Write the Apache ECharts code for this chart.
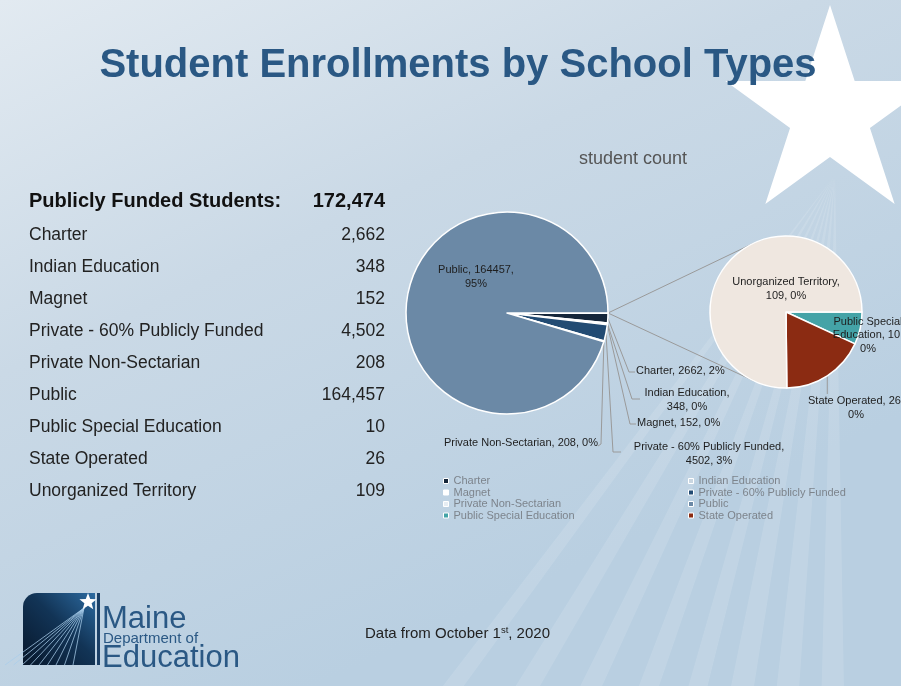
<!DOCTYPE html>
<html><head><meta charset="utf-8">
<script src="https://cdn.jsdelivr.net/npm/echarts@6/dist/echarts.min.js"></script>
<style>html,body{margin:0;padding:0;background:#fff}#c{width:901px;height:686px}</style>
</head><body><div id="c"></div>
<script>
// ---------------- DATA ----------------
const titleText = 'Student Enrollments by School Types';
const seriesName = 'student count';
const tableHeader = 'Publicly Funded Students:';
const sourceText = 'Data from October 1';
const sourceSup = 'st';
const sourceTail = ', 2020';
const categories = ['Charter', 'Indian Education', 'Magnet', 'Private - 60% Publicly Funded',
  'Private Non-Sectarian', 'Public', 'Public Special Education', 'State Operated', 'Unorganized Territory'];
const studentCounts = [2662, 348, 152, 4502, 208, 164457, 10, 26, 109];
const mainPieNames = ['Charter', 'Indian Education', 'Magnet', 'Private - 60% Publicly Funded',
  'Private Non-Sectarian', 'Public'];
const secondPieNames = ['Public Special Education', 'State Operated', 'Unorganized Territory'];
const otherName = 'Other';
const legendLeftNames = ['Charter', 'Magnet', 'Private Non-Sectarian', 'Public Special Education'];
const legendRightNames = ['Indian Education', 'Private - 60% Publicly Funded', 'Public', 'State Operated'];

// ---------------- STYLE / LAYOUT ----------------
const FONT = '"Liberation Sans", Arial, Helvetica, sans-serif';
const P1 = { cx: 507, cy: 313, r: 101 };
const P2 = { cx: 786, cy: 312, r: 76 };
const colors = {
  'Charter': '#15263a',
  'Indian Education': '#c9d6e1',
  'Magnet': '#ffffff',
  'Private - 60% Publicly Funded': '#224b73',
  'Private Non-Sectarian': '#e6edf3',
  'Public': '#6b89a6',
  'Public Special Education': '#44a3a7',
  'State Operated': '#8b2b12',
  'Unorganized Territory': '#efe7e0',
  'Other': '#efe7e0'
};
const labelSeps = {
  'Public': [', ', ',\n'],
  'Indian Education': [',\n', ', '],
  'Private - 60% Publicly Funded': [',\n', ', '],
  'Unorganized Territory': [',\n', ', '],
  'Public Special Education': [', ', ',\n'],
  'State Operated': [', ', ',\n']
};
const displayNames = { 'Public Special Education': 'Public Special\nEducation' };
// label placement (layout only)
const labelPlace = {
  'Public': { x: 476, y: 277, align: 'center' },
  'Charter': { x: 636, y: 371, align: 'left', line: [[629, 372], [635, 372]] },
  'Indian Education': { x: 687, y: 400, align: 'center', line: [[632, 399], [640, 399]] },
  'Magnet': { x: 637, y: 423, align: 'left', line: [[630, 424], [636, 424]] },
  'Private - 60% Publicly Funded': { x: 709, y: 454, align: 'center', line: [[613, 452], [621, 452]] },
  'Private Non-Sectarian': { x: 598, y: 443, align: 'right', line: [[601, 444], [598, 446]] },
  'Unorganized Territory': { x: 786, y: 289, align: 'center' },
  'Public Special Education': { x: 868, y: 335, align: 'center' },
  'State Operated': { x: 856, y: 408, align: 'center', line: [[null, 394]] }
};

const valueOf = n => studentCounts[categories.indexOf(n)];
const grandTotal = studentCounts.reduce((a, b) => a + b, 0);
const otherTotal = secondPieNames.reduce((a, n) => a + valueOf(n), 0);
const fmt = v => v.toLocaleString('en-US');

function labelText(name) {
  const v = valueOf(name);
  const pct = Math.round(v / grandTotal * 100);
  const s = labelSeps[name] || [', ', ', '];
  return (displayNames[name] || name) + s[0] + v + s[1] + pct + '%';
}

function makeItem(name) {
  const place = labelPlace[name];
  return {
    name: name,
    value: valueOf(name),
    itemStyle: { color: colors[name] },
    label: { show: true, formatter: () => labelText(name) },
    labelLine: { show: !!(place && place.line) }
  };
}

const mainData = [{
  name: otherName, value: otherTotal, itemStyle: { color: colors[otherName] },
  label: { show: false }, labelLine: { show: false }
}].concat(mainPieNames.map(makeItem));
const secondData = secondPieNames.map(makeItem);

function layoutFor(data) {
  return function (params) {
    const item = data[params.dataIndex];
    const place = item && labelPlace[item.name];
    if (!place) return {};
    const out = { x: place.x, y: place.y, align: place.align, verticalAlign: 'middle' };
    if (place.line && params.labelLinePoints) {
      const edge = params.labelLinePoints[0];
      const pts = [edge.slice()];
      place.line.forEach(p => pts.push([p[0] == null ? edge[0] : p[0], p[1]]));
      if (pts.length === 2) pts.push(pts[1].slice());
      out.labelLinePoints = pts;
    }
    return out;
  };
}

const otherAngle = otherTotal / grandTotal * 360;

function pieSeries(P, data, startAngle) {
  return {
    type: 'pie', name: seriesName,
    center: [P.cx, P.cy], radius: P.r,
    startAngle: startAngle, clockwise: true,
    avoidLabelOverlap: false,
    minShowLabelAngle: 0,
    itemStyle: { borderColor: '#ffffff', borderWidth: 1.5 },
    label: { show: true, position: 'outside', color: '#1e1e1e', fontSize: 11, fontFamily: FONT, lineHeight: 13.5 },
    labelLine: { show: true, lineStyle: { color: '#9a9a9a', width: 1 } },
    labelLayout: layoutFor(data),
    emphasis: { scale: false },
    data: data,
    z: 3
  };
}

// ---------- decorative graphics ----------
function starPoints(cx, cy, R, r) {
  const pts = [];
  for (let i = 0; i < 10; i++) {
    const a = -Math.PI / 2 + i * Math.PI / 5;
    const rr = i % 2 === 0 ? R : r;
    pts.push([cx + rr * Math.cos(a), cy + rr * Math.sin(a)]);
  }
  return pts;
}
const graphics = [];
// background rays from star
const rayApex = [835, 175];
const rayAngles = [[89, 91.5], [94, 96.5], [99, 101.5], [104, 106], [109, 111], [114.5, 116.5], [120, 122], [126, 127.5]];
rayAngles.forEach(a => {
  const L = 1200;
  const a1 = a[0] * Math.PI / 180, a2 = a[1] * Math.PI / 180;
  graphics.push({
    type: 'polygon', z: -10, silent: true,
    shape: { points: [rayApex, [rayApex[0] + L * Math.cos(a1), rayApex[1] + L * Math.sin(a1)], [rayApex[0] + L * Math.cos(a2), rayApex[1] + L * Math.sin(a2)]] },
    style: { fill: 'rgba(255,255,255,0.12)' }
  });
});
// big star
graphics.push({ type: 'polygon', z: -5, silent: true, shape: { points: starPoints(830, 115, 110, 42) }, style: { fill: '#ffffff' } });
// title
graphics.push({ type: 'text', z: 10, style: { text: titleText, x: 458, y: 66, align: 'center', verticalAlign: 'middle', font: 'bold 40px ' + FONT, fill: '#2a5884' } });
graphics.push({ type: 'text', z: 10, style: { text: seriesName, x: 633, y: 159, align: 'center', verticalAlign: 'middle', font: '18px ' + FONT, fill: '#555555' } });
// table
graphics.push({ type: 'text', z: 10, style: { text: tableHeader, x: 29, y: 201, verticalAlign: 'middle', font: 'bold 20px ' + FONT, fill: '#111111' } });
graphics.push({ type: 'text', z: 10, style: { text: fmt(grandTotal), x: 385, y: 201, align: 'right', verticalAlign: 'middle', font: 'bold 20px ' + FONT, fill: '#111111' } });
categories.forEach((c, i) => {
  const y = 235 + i * 32;
  graphics.push({ type: 'text', z: 10, style: { text: c, x: 29, y: y, verticalAlign: 'middle', font: '17.5px ' + FONT, fill: '#222222' } });
  graphics.push({ type: 'text', z: 10, style: { text: fmt(studentCounts[i]), x: 385, y: y, align: 'right', verticalAlign: 'middle', font: '17.5px ' + FONT, fill: '#222222' } });
});
// source note
graphics.push({
  type: 'text', z: 10, style: {
    text: sourceText + '{sup|' + sourceSup + '}' + sourceTail, x: 365, y: 634, verticalAlign: 'middle',
    font: '15px ' + FONT, fill: '#222222',
    rich: { sup: { fontSize: 9.5, fontFamily: FONT, fill: '#222222', padding: [0, 0, 7, 0] } }
  }
});
// connector lines between pies (tangents)
(function () {
  const px = P1.cx + P1.r, py = P1.cy;
  const d = Math.hypot(P2.cx - px, P2.cy - py);
  const base = Math.atan2(py - P2.cy, px - P2.cx);
  const phi = Math.acos(P2.r / d);
  [base + phi, base - phi].forEach(a => {
    graphics.push({ type: 'line', z: 1, silent: true,
      shape: { x1: px, y1: py, x2: P2.cx + P2.r * Math.cos(a), y2: P2.cy + P2.r * Math.sin(a) },
      style: { stroke: '#9a9a9a', lineWidth: 1 } });
  });
})();
// logo
(function () {
  const lx = 23, ly = 593, lw = 72, lh = 72;
  graphics.push({ type: 'rect', z: 5, silent: true, shape: { x: lx, y: ly, width: lw, height: lh, r: [14, 0, 0, 0] },
    style: { fill: { type: 'linear', x: 1, y: 0, x2: 0, y2: 1, colorStops: [{ offset: 0, color: '#2c6aa0' }, { offset: 0.45, color: '#123456' }, { offset: 1, color: '#07172b' }] } } });
  graphics.push({ type: 'rect', z: 5, silent: true, shape: { x: lx + lw + 2, y: ly, width: 3, height: lh }, style: { fill: '#1a3f66' } });
  const sx = 88, sy = 602;
  for (let i = 0; i < 9; i++) {
    const ex = lx + 2 + i * 7, ey = ly + lh;
    graphics.push({ type: 'line', z: 6, silent: true, shape: { x1: sx - 4, y1: sy + 6, x2: ex - 20 + i * 1.5, y2: ey },
      style: { stroke: 'rgba(170,205,235,0.75)', lineWidth: 1 } });
  }
  graphics.push({ type: 'polygon', z: 7, silent: true, shape: { points: starPoints(sx, sy, 9, 3.8) }, style: { fill: '#ffffff' } });
  graphics.push({ type: 'text', z: 10, style: { text: 'Maine', x: 102, y: 619, verticalAlign: 'middle', font: '31px ' + FONT, fill: '#2a5884' } });
  graphics.push({ type: 'text', z: 10, style: { text: 'Department of', x: 103, y: 639, verticalAlign: 'middle', font: '15px ' + FONT, fill: '#2a5884' } });
  graphics.push({ type: 'text', z: 10, style: { text: 'Education', x: 102, y: 658, verticalAlign: 'middle', font: '31px ' + FONT, fill: '#2a5884' } });
})();

const legendCommon = {
  orient: 'vertical', top: 475.5, itemWidth: 5, itemHeight: 5, itemGap: 0.5, padding: 0, icon: 'rect',
  selectedMode: false,
  itemStyle: { borderColor: '#ffffff', borderWidth: 1 },
  textStyle: { fontSize: 11, color: '#7d848c', fontFamily: FONT, lineHeight: 11 }
};

const chart = echarts.init(document.getElementById('c'), null, { renderer: 'canvas' });
chart.setOption({
  animation: false,
  backgroundColor: {
    type: 'linear', x: 0, y: 0, x2: 0.35, y2: 1,
    colorStops: [{ offset: 0, color: '#e2eaf1' }, { offset: 0.45, color: '#cad9e6' }, { offset: 1, color: '#b9cfe1' }]
  },
  legend: [
    Object.assign({ left: 443, data: legendLeftNames }, legendCommon),
    Object.assign({ left: 688, data: legendRightNames }, legendCommon)
  ],
  graphic: graphics,
  series: [
    pieSeries(P1, mainData, otherAngle / 2),
    pieSeries(P2, secondData, 0)
  ]
});
</script></body></html>
